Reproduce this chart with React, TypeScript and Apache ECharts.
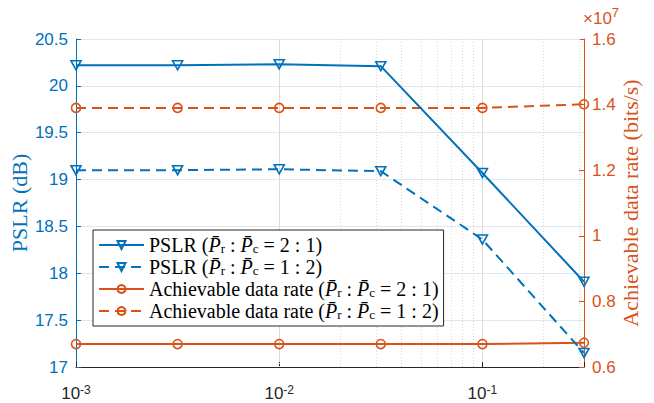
import { useEffect, useRef } from 'react';
import * as echarts from 'echarts';

// ---- data ----
const xValues = [0.001, 0.003162, 0.01, 0.03162, 0.1, 0.3162];
const pslr21 = [20.22, 20.22, 20.23, 20.21, 19.07, 17.91];
const pslr12 = [19.1, 19.1, 19.11, 19.09, 18.36, 17.15];
const rate21 = [6.7e6, 6.7e6, 6.7e6, 6.7e6, 6.7e6, 6.74e6];
const rate12 = [1.39e7, 1.39e7, 1.39e7, 1.39e7, 1.39e7, 1.401e7];
const minorGridX = [
  0.002, 0.003, 0.004, 0.005, 0.006, 0.007, 0.008, 0.009,
  0.02, 0.03, 0.04, 0.05, 0.06, 0.07, 0.08, 0.09,
  0.2, 0.3,
];
const seriesNames = [
  'PSLR (P̄r : P̄c = 2 : 1)',
  'PSLR (P̄r : P̄c = 1 : 2)',
  'Achievable data rate (P̄r : P̄c = 2 : 1)',
  'Achievable data rate (P̄r : P̄c = 1 : 2)',
];
const legendPrefix = ['PSLR (', 'PSLR (', 'Achievable data rate (', 'Achievable data rate ('];
const legendRatio = ['2 : 1)', '1 : 2)', '2 : 1)', '1 : 2)'];
const leftAxisName = 'PSLR (dB)';
const rightAxisName = 'Achievable data rate (bits/s)';

const BLUE = '#0072BD';
const ORANGE = '#D95319';
const DARK = '#262626';
const SERIF = "'Liberation Serif', 'Times New Roman', serif";
const SANS = "'Liberation Sans', Arial, sans-serif";

const pairs = (ys: number[]) => xValues.map((x, i) => [x, ys[i]]);

export default function App() {
  const ref = useRef<HTMLDivElement>(null);
  useEffect(() => {
    document.body.style.margin = '0';
    if (!ref.current) return;
    const chart = echarts.init(ref.current, undefined, { renderer: 'svg' });

    const legendRich: Record<string, string> = {};
    seriesNames.forEach((n, i) => {
      legendRich[n] = `{n|${legendPrefix[i]}}{i|P̄}{s|r}{n| : }{i|P̄}{s|c}{n| = ${legendRatio[i]}}`;
    });

    const triStyle = (dashed: boolean) => ({
      type: 'line',
      symbol: 'triangle',
      symbolRotate: 180,
      symbolSize: [10, 9],
      showAllSymbol: true,
      lineStyle: { color: BLUE, width: 2, type: dashed ? [10, 6] : 'solid' },
      itemStyle: { color: 'rgba(0,0,0,0)', borderColor: BLUE, borderWidth: 1.6 },
      yAxisIndex: 0,
    });
    const circStyle = (dashed: boolean) => ({
      type: 'line',
      symbol: 'circle',
      symbolSize: 9,
      showAllSymbol: true,
      lineStyle: { color: ORANGE, width: 2, type: dashed ? [10, 6] : 'solid' },
      itemStyle: { color: 'rgba(0,0,0,0)', borderColor: ORANGE, borderWidth: 1.6 },
      yAxisIndex: 1,
    });

    const option: any = {
      animation: false,
      backgroundColor: '#fff',
      grid: { left: 76, right: 70, top: 39, bottom: 36, containLabel: false, outerBoundsMode: 'none' },
      title: {
        text: '{b|×10}{sup|7}',
        left: 583,
        top: 6,
        padding: 0,
        textStyle: {
          color: ORANGE,
          fontFamily: SANS,
          fontSize: 17,
          fontWeight: 'normal',
          rich: {
            b: { fontFamily: SANS, fontSize: 17, lineHeight: 24, color: ORANGE },
            sup: { fontFamily: SANS, fontSize: 13, lineHeight: 10, verticalAlign: 'top', color: ORANGE },
          },
        },
      },
      graphic: [
        {
          type: 'text',
          x: 19,
          y: 203,
          rotation: Math.PI / 2,
          silent: true,
          style: {
            text: leftAxisName,
            fontSize: 22,
            fontFamily: SERIF,
            fill: BLUE,
            align: 'center',
            verticalAlign: 'middle',
          },
        },
        {
          type: 'text',
          x: 630,
          y: 203,
          rotation: Math.PI / 2,
          silent: true,
          style: {
            text: rightAxisName,
            fontSize: 22,
            fontFamily: SERIF,
            fill: ORANGE,
            align: 'center',
            verticalAlign: 'middle',
          },
        },
      ],
      xAxis: {
        type: 'log',
        logBase: 10,
        min: 0.001,
        max: 0.3162,
        axisLine: { show: true, onZero: false, lineStyle: { color: DARK, width: 1 } },
        axisTick: { show: true, inside: true, length: 5, lineStyle: { color: DARK } },
        axisLabel: {
          margin: 17,
          color: DARK,
          fontFamily: SANS,
          fontSize: 17,
          lineHeight: 18,
          formatter: (v: number) => {
            const e = Math.log10(v);
            const r = Math.round(e);
            if (Math.abs(e - r) > 1e-4) return '';
            return `{b|10}{sup|${r}}`;
          },
          rich: {
            b: { fontFamily: SANS, fontSize: 17, lineHeight: 18, color: DARK },
            sup: { fontFamily: SANS, fontSize: 12, lineHeight: 6, verticalAlign: 'top', color: DARK },
          },
        },
        splitLine: { show: true, lineStyle: { color: '#dedede', width: 1 } },
      },
      yAxis: [
        {
          type: 'value',
          position: 'left',
          min: 17,
          max: 20.5,
          interval: 0.5,
          axisLine: { show: true, lineStyle: { color: BLUE, width: 1 } },
          axisTick: { show: true, inside: true, length: 5, lineStyle: { color: BLUE } },
          axisLabel: { color: BLUE, fontFamily: SANS, fontSize: 17, margin: 8 },
          splitLine: { show: true, lineStyle: { color: '#d9eaf5', width: 1 } },
        },
        {
          type: 'value',
          position: 'right',
          min: 6e6,
          max: 1.6e7,
          interval: 2e6,
          axisLine: { show: true, lineStyle: { color: ORANGE, width: 1 } },
          axisTick: { show: true, inside: true, length: 5, lineStyle: { color: ORANGE } },
          axisLabel: {
            color: ORANGE,
            fontFamily: SANS,
            fontSize: 17,
            margin: 8,
            formatter: (v: number) => String(+(v / 1e7).toFixed(1)),
          },
          splitLine: { show: false },
        },
      ],
      legend: {
        orient: 'vertical',
        left: 93,
        top: 230,
        itemWidth: 45,
        itemHeight: 10,
        itemGap: 2,
        padding: [5, 5, 5, 5],
        backgroundColor: '#fff',
        borderColor: DARK,
        borderWidth: 1,
        borderRadius: 0,
        data: seriesNames,
        formatter: (name: string) => legendRich[name],
        textStyle: {
          fontFamily: SERIF,
          fontSize: 20,
          color: '#000',
          rich: {
            n: { fontFamily: SERIF, fontSize: 20, lineHeight: 20, color: '#000' },
            i: { fontFamily: SERIF, fontSize: 20, lineHeight: 20, fontStyle: 'italic', color: '#000' },
            s: { fontFamily: SERIF, fontSize: 13, lineHeight: 8, verticalAlign: 'bottom', color: '#000' },
          },
        },
      },
      series: [
        {
          ...triStyle(false),
          name: seriesNames[0],
          data: pairs(pslr21),
          z: 4,
          markLine: {
            silent: true,
            symbol: 'none',
            label: { show: false },
            animation: false,
            lineStyle: { color: '#d6d6d6', type: [1, 2], width: 1 },
            data: minorGridX.map((v) => ({ xAxis: v })),
            z: 1,
          },
        },
        { ...triStyle(true), name: seriesNames[1], data: pairs(pslr12), z: 4 },
        { ...circStyle(false), name: seriesNames[2], data: pairs(rate21), z: 3 },
        { ...circStyle(true), name: seriesNames[3], data: pairs(rate12), z: 3 },
      ],
    };

    chart.setOption(option);
    return () => chart.dispose();
  }, []);

  return <div ref={ref} style={{ width: 654, height: 403 }} />;
}
